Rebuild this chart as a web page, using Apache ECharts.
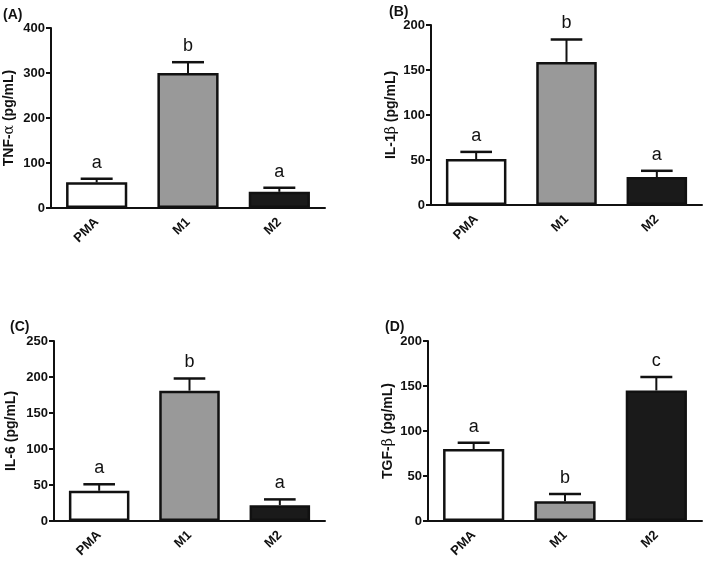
<!DOCTYPE html>
<html>
<head>
<meta charset="utf-8">
<script src="https://cdn.jsdelivr.net/npm/echarts@6/dist/echarts.min.js"></script>
<style>
html,body{margin:0;padding:0;background:#fff;}
#chart{width:707px;height:564px;}
</style>
</head>
<body>
<div id="chart"></div>
<script>
// ---- data ----
var categories = ['PMA', 'M1', 'M2'];

var tnfMean = [57, 300, 36];
var tnfErr = [8, 24, 9];
var tnfLetters = ['a', 'b', 'a'];

var il1bMean = [51, 159, 31];
var il1bErr = [8, 25, 7];
var il1bLetters = ['a', 'b', 'a'];

var il6Mean = [42, 181, 22];
var il6Err = [9, 17, 8];
var il6Letters = ['a', 'b', 'a'];

var tgfMean = [80, 22, 145];
var tgfErr = [7, 8, 15];
var tgfLetters = ['a', 'b', 'c'];

var panelTitles = ['(A)', '(B)', '(C)', '(D)'];
var yNames = [
  '{b|TNF-}{g|α}{b| (pg/mL)}',
  '{b|IL-1}{g|β}{b| (pg/mL)}',
  '{b|IL-6 (pg/mL)}',
  '{b|TGF-}{g|β}{b| (pg/mL)}'
];
var yMax = [400, 200, 250, 200];
var yInterval = [100, 50, 50, 50];

var means = [tnfMean, il1bMean, il6Mean, tgfMean];
var errs = [tnfErr, il1bErr, il6Err, tgfErr];
var letters = [tnfLetters, il1bLetters, il6Letters, tgfLetters];

// ---- styling ----
var FONT = '"Liberation Sans", Arial, sans-serif';
var INK = '#111111';
var barColors = ['#ffffff', '#999999', '#1a1a1a'];

var grids = [
  {left: 51, top: 28, width: 274, height: 180},
  {left: 431, top: 25, width: 271, height: 180},
  {left: 54, top: 341, width: 271, height: 180},
  {left: 428, top: 341, width: 274, height: 180}
];
var titlePos = [[3, 8], [389, 5], [10, 320], [385, 320]];
var nameGaps = [35, 33, 36, 33];

var xAxes = [], yAxes = [], series = [], graphics = [];
for (var i = 0; i < 4; i++) {
  xAxes.push({
    type: 'category', gridIndex: i, data: categories,
    axisLine: {lineStyle: {color: INK, width: 2}},
    axisTick: {alignWithLabel: true, length: 5, lineStyle: {color: INK, width: 2}},
    axisLabel: {rotate: 45, margin: 12, color: INK, fontWeight: 'bold', fontSize: 13, fontFamily: FONT},
    splitLine: {show: false}
  });
  yAxes.push({
    type: 'value', gridIndex: i, min: 0, max: yMax[i], interval: yInterval[i],
    axisLine: {show: true, lineStyle: {color: INK, width: 2}},
    axisTick: {show: true, length: 5, lineStyle: {color: INK, width: 2}},
    axisLabel: {margin: 6, color: INK, fontWeight: 'bold', fontSize: 13, fontFamily: FONT},
    splitLine: {show: false},
    name: yNames[i], nameLocation: 'middle', nameGap: nameGaps[i], nameRotate: 90,
    nameTextStyle: {
      rich: {
        b: {fontWeight: 'bold', fontSize: 14, color: INK, fontFamily: FONT},
        g: {fontWeight: 'normal', fontSize: 14, color: INK, fontFamily: '"DejaVu Serif", serif'}
      }
    }
  });
  var barData = means[i].map(function (v, k) {
    return {value: v, itemStyle: {color: barColors[k], borderColor: INK, borderWidth: 2.5}};
  });
  series.push({
    type: 'bar', xAxisIndex: i, yAxisIndex: i, data: barData, barWidth: '67%',
    silent: true, z: 2
  });
  (function (idx) {
    var errData = means[idx].map(function (v, k) { return [k, v, errs[idx][k], letters[idx][k]]; });
    series.push({
      type: 'custom', xAxisIndex: idx, yAxisIndex: idx, data: errData, z: 3, silent: true,
      renderItem: function (params, api) {
        var k = api.value(0), m = api.value(1), e = api.value(2);
        var lt = errData[params.dataIndex][3];
        var base = api.coord([k, m]);
        var top = api.coord([k, m + e]);
        var half = api.size([1, 0])[0] * 0.175;
        return {
          type: 'group',
          children: [
            {type: 'line', shape: {x1: base[0], y1: base[1], x2: top[0], y2: top[1]}, style: {stroke: INK, lineWidth: 2}},
            {type: 'line', shape: {x1: top[0] - half, y1: top[1], x2: top[0] + half, y2: top[1]}, style: {stroke: INK, lineWidth: 2.5}},
            {type: 'text', style: {text: lt, x: top[0], y: top[1] - 7, textAlign: 'center', textVerticalAlign: 'bottom', fontSize: 18, fontFamily: FONT, fill: INK}}
          ]
        };
      }
    });
  })(i);
  graphics.push({
    type: 'text', left: titlePos[i][0], top: titlePos[i][1],
    style: {text: panelTitles[i], fontSize: 14, fontWeight: 'bold', fontFamily: FONT, fill: INK}
  });
}

var chart = echarts.init(document.getElementById('chart'), null, {renderer: 'canvas'});
chart.setOption({
  backgroundColor: '#ffffff',
  animation: false,
  grid: grids,
  xAxis: xAxes,
  yAxis: yAxes,
  series: series,
  graphic: graphics
});
</script>
</body>
</html>
